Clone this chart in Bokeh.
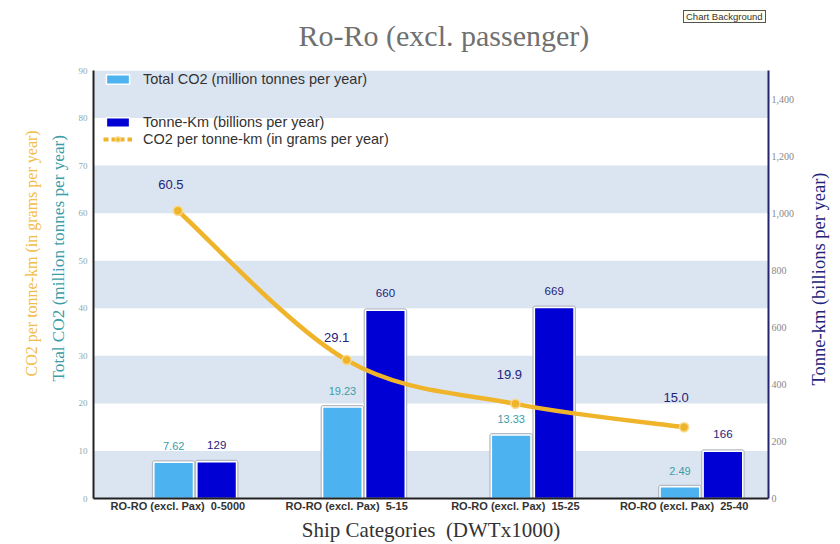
import math
from bokeh.plotting import figure
from bokeh.models import (Range1d, LinearAxis, FixedTicker, NumeralTickFormatter,
                          ColumnDataSource, Legend, LegendItem, Title, Div)
from bokeh.layouts import column
from bokeh.core.properties import value
from bokeh.embed import file_html
from bokeh.resources import INLINE

# ---- data ----
categories = ["RO-RO (excl. Pax)  0-5000", "RO-RO (excl. Pax)  5-15",
              "RO-RO (excl. Pax)  15-25", "RO-RO (excl. Pax)  25-40"]
total_co2 = [7.62, 19.23, 13.33, 2.49]          # million tonnes per year (left axis)
tonne_km = [129, 660, 669, 166]                 # billions per year (right axis)
co2_per_tkm = [60.5, 29.1, 19.9, 15.0]          # grams (left axis)
left_ticks = [0, 10, 20, 30, 40, 50, 60, 70, 80, 90]
right_ticks = [0, 200, 400, 600, 800, 1000, 1200, 1400]

n = len(categories)
centers = [i + 0.5 for i in range(n)]

LIGHT = "#4cb3f0"
DARK = "#0000d4"
ORANGE = "#f0b42a"
NAVY = "#22237a"
TEAL = "#3b9da6"
SANS = value("Liberation Sans")

p = figure(width=840, height=544, output_backend="svg", toolbar_location=None,
           x_range=Range1d(0, n), y_range=Range1d(0, 90), title=None,
           min_border_left=93, min_border_right=72, min_border_top=70, min_border_bottom=44)
p.outline_line_color = None
p.background_fill_color = "white"

# main title
main_title = Title(text="Ro-Ro (excl. passenger)", align="left", offset=205,
                   vertical_align="top",
                   text_font="Liberation Serif", text_font_size="30px",
                   text_font_style="normal", text_color="#707070", standoff=34)
p.add_layout(main_title, "above")

# grid bands (0-10, 20-30, ... 80-90 shaded)
p.xgrid.visible = False
p.ygrid.ticker = FixedTicker(ticks=[left_ticks[0], left_ticks[0] + 1e-6] + left_ticks[1:])
p.ygrid.grid_line_color = None
p.ygrid.band_fill_color = "#dbe5f1"
p.ygrid.band_fill_alpha = 1.0

p.extra_y_ranges = {"tk": Range1d(0, 1500)}

# bars
light_x = [c - 0.025 for c in centers]
dark_x = [c + 0.23 for c in centers]
bw = 0.235
src_l = ColumnDataSource(dict(x=light_x, top=total_co2, lab=["%.2f" % v for v in total_co2]))
src_d = ColumnDataSource(dict(x=dark_x, top=tonne_km, lab=[str(v) for v in tonne_km]))

p.vbar(x="x", top="top", width=bw, source=src_l, fill_color=None,
       line_color="#b4bac4", line_width=4)
r_light = p.vbar(x="x", top="top", width=bw, source=src_l, fill_color=LIGHT,
                 line_color="white", line_width=1.5)
p.vbar(x="x", top="top", width=bw, source=src_d, fill_color=None,
       line_color="#b4bac4", line_width=4, y_range_name="tk")
r_dark = p.vbar(x="x", top="top", width=bw, source=src_d, fill_color=DARK,
                line_color="white", line_width=1.5, y_range_name="tk")

p.text(x="x", y="top", text="lab", source=src_l, text_align="center",
       text_baseline="middle", y_offset=-16, text_font_size="11px",
       text_color=TEAL, text_font=SANS)
p.text(x="x", y="top", text="lab", source=src_d, text_align="center",
       text_baseline="middle", y_offset=-17, text_font_size="11.5px",
       text_color=NAVY, text_font=SANS, y_range_name="tk")

# smooth line (Catmull-Rom bezier through the points)
xs, ys = centers, co2_per_tkm
bx0, by0, bx1, by1, c0x, c0y, c1x, c1y = [], [], [], [], [], [], [], []
for i in range(n - 1):
    xp, yp = (xs[i - 1], ys[i - 1]) if i > 0 else (xs[i], ys[i])
    xn2, yn2 = (xs[i + 2], ys[i + 2]) if i + 2 < n else (xs[i + 1], ys[i + 1])
    bx0.append(xs[i]); by0.append(ys[i]); bx1.append(xs[i + 1]); by1.append(ys[i + 1])
    c0x.append(xs[i] + (xs[i + 1] - xp) / 6); c0y.append(ys[i] + (ys[i + 1] - yp) / 6)
    c1x.append(xs[i + 1] - (xn2 - xs[i]) / 6); c1y.append(ys[i + 1] - (yn2 - ys[i]) / 6)
p.bezier(x0=bx0, y0=by0, x1=bx1, y1=by1, cx0=c0x, cy0=c0y, cx1=c1x, cy1=c1y,
         line_color=ORANGE, line_width=4.5)
src_c = ColumnDataSource(dict(x=xs, y=ys, lab=["%.1f" % v for v in ys],
                              dx=[-7, -10, -6, -8], dy=[-26, -23, -29, -30]))
r_pts = p.scatter(x="x", y="y", source=src_c, size=9, fill_color=ORANGE,
                  line_color="#f7d98a", line_width=1.5)
p.text(x="x", y="y", text="lab", source=src_c, x_offset="dx", y_offset="dy",
       text_align="center", text_baseline="middle", text_font_size="13px",
       text_color=NAVY, text_font=SANS)

# legend glyph for line (single point -> nothing visible in plot)
r_leg_line = p.line(x=xs[:1], y=ys[:1], line_color=ORANGE, line_width=4, line_dash="5 3")

# axes
def no_ticks(ax):
    ax.major_tick_line_color = None
    ax.minor_tick_line_color = None
    ax.major_tick_out = 0
    ax.major_tick_in = 0
    ax.minor_tick_out = 0
    ax.minor_tick_in = 0

xa = p.xaxis[0]
no_ticks(xa)
xa.ticker = FixedTicker(ticks=centers)
xa.major_label_overrides = {c: lab.replace("  ", "\u00a0\u00a0") for c, lab in zip(centers, categories)}
xa.major_label_text_font = "Liberation Sans"
xa.major_label_text_font_size = "11px"
xa.major_label_text_font_style = "bold"
xa.major_label_text_color = "#333333"
xa.axis_line_color = "#222222"
xa.axis_line_width = 2
xa.major_label_standoff = 1
xa.axis_label = "Ship Categories\u00a0\u00a0(DWTx1000)"
xa.axis_label_text_font = "Liberation Serif"
xa.axis_label_text_font_size = "21px"
xa.axis_label_text_font_style = "normal"
xa.axis_label_text_color = "#333333"
xa.axis_label_standoff = 3

ya = p.yaxis[0]
no_ticks(ya)
ya.ticker = FixedTicker(ticks=left_ticks)
ya.major_label_text_font = "Liberation Serif"
ya.major_label_text_font_size = "9px"
ya.major_label_text_color = "#8fa8a8"
ya.axis_line_color = "#222222"
ya.axis_line_width = 2
ya.major_label_standoff = 6

teal_title = Title(text="Total CO2 (million tonnes per year)", align="left", offset=117,
                   text_font="Liberation Serif", text_font_size="17.2px",
                   text_font_style="normal", text_color=TEAL, standoff=15)
p.add_layout(teal_title, "left")
orange_title = Title(text="CO2 per tonne-km (in grams per year)", align="left", offset=122,
                     text_font="Liberation Serif", text_font_size="16px",
                     text_font_style="normal", text_color="#f2bc45", standoff=0)
p.add_layout(orange_title, "left")

ra = LinearAxis(y_range_name="tk", ticker=FixedTicker(ticks=right_ticks),
                formatter=NumeralTickFormatter(format="0,0"))
no_ticks(ra)
ra.major_label_text_font = "Liberation Serif"
ra.major_label_text_font_size = "10px"
ra.major_label_text_color = "#888888"
ra.axis_line_color = "#24246e"
ra.axis_line_width = 2
ra.major_label_standoff = 3
p.add_layout(ra, "right")

# legends
def style_legend(lg):
    lg.background_fill_alpha = 0
    lg.border_line_color = None
    lg.padding = 0
    lg.margin = 0
    lg.spacing = 1
    lg.glyph_width = 29
    lg.glyph_height = 12
    lg.label_height = 16
    lg.label_text_font = "Liberation Sans"
    lg.label_text_font_size = "14.5px"
    lg.label_text_color = "#333333"
    lg.label_standoff = 11

lg1 = Legend(items=[LegendItem(label="Total CO2 (million tonnes per year)", renderers=[r_light])],
             location=(10, 411))
lg2 = Legend(items=[LegendItem(label="Tonne-Km (billions per year)", renderers=[r_dark]),
                    LegendItem(label="CO2 per tonne-km (in grams per year)",
                               renderers=[r_leg_line, r_pts])],
             location=(10, 351))
style_legend(lg1)
style_legend(lg2)
p.add_layout(lg1)
p.add_layout(lg2)

# right axis title (reads bottom-to-top, as on the left)
right_title = Div(text="Tonne-km (billions per year)",
                  styles={"position": "absolute", "left": "684px", "top": "263px",
                          "width": "260px", "height": "22px", "text-align": "center",
                          "white-space": "nowrap", "transform": "rotate(-90deg)",
                          "font-family": "Liberation Serif", "font-size": "18.5px",
                          "line-height": "22px", "color": NAVY, "z-index": "10"})

# small "Chart Background" tag in the top-right corner
tag = Div(text="Chart Background",
          styles={"position": "absolute", "left": "678px", "top": "5px",
                  "font-family": "Liberation Sans", "font-size": "9.5px", "line-height": "11px",
                  "color": "#333333", "background": "#fffff2", "border": "1px solid #555555",
                  "padding": "0px 2px", "z-index": "10"})

layout = column(p, right_title, tag)
open("out.html", "w").write(file_html(layout, INLINE))
